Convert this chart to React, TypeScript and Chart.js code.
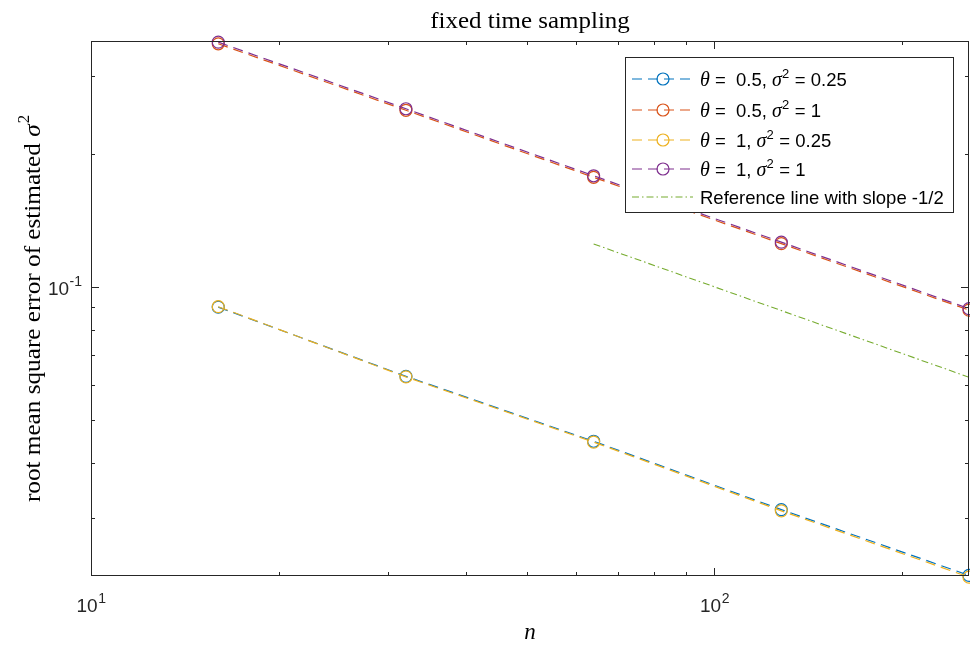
import React, { useEffect, useRef } from "react";
import { Chart, registerables } from "chart.js";
Chart.register(...registerables);

// ---- data ----
const nValues = [16, 32, 64, 128, 256];
const rmseTheta05Sigma025 = [0.0900, 0.0628, 0.0448, 0.0314, 0.0223];
const rmseTheta05Sigma1 = [0.354, 0.2505, 0.1768, 0.1252, 0.0886];
const rmseTheta1Sigma025 = [0.0902, 0.0626, 0.0446, 0.0312, 0.0221];
const rmseTheta1Sigma1 = [0.357, 0.2525, 0.1782, 0.1262, 0.0893];
const refN = [64, 128, 256];
const refValues = [0.125, 0.0884, 0.0625];

// ---- axes ----
const xRange = [10, 256];
const yRange = [0.02223, 0.3592];
const xMajorTicks = [10, 100];
const xMajorLabels = [["10", "1"], ["10", "2"]];
const xMinorTicks = [20, 30, 40, 50, 60, 70, 80, 90, 200];
const yMajorTicks = [0.1];
const yMajorLabels = [["10", "-1"]];
const yMinorTicks = [0.03, 0.04, 0.05, 0.06, 0.07, 0.08, 0.09, 0.2, 0.3];

const titleText = "fixed time sampling";
const xTitle = "n";
const yTitle = "root mean square error of estimated ";

const colors = ["#0072BD", "#D95319", "#EDB120", "#7E2F8E", "#77AC30"];

type Seg = { t: string; kind: "sans" | "sym" | "sup" };
const legendEntries: Seg[][] = [
  [{ t: "θ", kind: "sym" }, { t: " =  0.5, ", kind: "sans" }, { t: "σ", kind: "sym" }, { t: "2", kind: "sup" }, { t: " = 0.25", kind: "sans" }],
  [{ t: "θ", kind: "sym" }, { t: " =  0.5, ", kind: "sans" }, { t: "σ", kind: "sym" }, { t: "2", kind: "sup" }, { t: " = 1", kind: "sans" }],
  [{ t: "θ", kind: "sym" }, { t: " =  1, ", kind: "sans" }, { t: "σ", kind: "sym" }, { t: "2", kind: "sup" }, { t: " = 0.25", kind: "sans" }],
  [{ t: "θ", kind: "sym" }, { t: " =  1, ", kind: "sans" }, { t: "σ", kind: "sym" }, { t: "2", kind: "sup" }, { t: " = 1", kind: "sans" }],
  [{ t: "Reference line with slope -1/2", kind: "sans" }],
];

const AX = "#262626";
const SANS = "'Liberation Sans', Arial, sans-serif";
const SERIF = "'Liberation Serif', 'Times New Roman', serif";

function drawSegs(ctx: CanvasRenderingContext2D, segs: Seg[], x: number, y: number) {
  let cx = x;
  for (const s of segs) {
    if (s.kind === "sans") ctx.font = `18.5px ${SANS}`;
    else if (s.kind === "sym") ctx.font = `italic 20px ${SERIF}`;
    else ctx.font = `13px ${SANS}`;
    const dy = s.kind === "sup" ? -8 : 0;
    ctx.fillText(s.t, cx, y + dy);
    cx += ctx.measureText(s.t).width + (s.kind === "sup" ? 0.5 : 0);
  }
}

const overlay = {
  id: "matlabOverlay",
  afterDraw(chart: any) {
    const ctx: CanvasRenderingContext2D = chart.ctx;
    const a = chart.chartArea;
    const xs = chart.scales.x;
    const ys = chart.scales.y;
    ctx.save();
    ctx.strokeStyle = AX;
    ctx.lineWidth = 1;
    const tick = (px: number, len: number, horiz: boolean) => {
      ctx.beginPath();
      if (horiz) {
        ctx.moveTo(px, a.bottom); ctx.lineTo(px, a.bottom - len);
        ctx.moveTo(px, a.top); ctx.lineTo(px, a.top + len);
      } else {
        ctx.moveTo(a.left, px); ctx.lineTo(a.left + len, px);
        ctx.moveTo(a.right, px); ctx.lineTo(a.right - len, px);
      }
      ctx.stroke();
    };
    xMajorTicks.forEach((v) => tick(Math.round(xs.getPixelForValue(v)) + 0.5, 8, true));
    xMinorTicks.forEach((v) => tick(Math.round(xs.getPixelForValue(v)) + 0.5, 4, true));
    yMajorTicks.forEach((v) => tick(Math.round(ys.getPixelForValue(v)) + 0.5, 8, false));
    yMinorTicks.forEach((v) => tick(Math.round(ys.getPixelForValue(v)) + 0.5, 4, false));
    ctx.strokeRect(a.left + 0.5, a.top + 0.5, a.right - a.left - 1, a.bottom - a.top - 1);

    // tick labels
    ctx.fillStyle = AX;
    ctx.textBaseline = "alphabetic";
    const MAIN = `19px ${SANS}`;
    const SUP = `14px ${SANS}`;
    xMajorTicks.forEach((v, i) => {
      const px = xs.getPixelForValue(v);
      const [b, e] = xMajorLabels[i];
      ctx.font = MAIN;
      const wb = ctx.measureText(b).width;
      ctx.font = SUP;
      const we = ctx.measureText(e).width;
      const x0 = px - (wb + we) / 2;
      ctx.font = MAIN;
      ctx.fillText(b, x0, 612);
      ctx.font = SUP;
      ctx.fillText(e, x0 + wb + 0.5, 603);
    });
    yMajorTicks.forEach((v, i) => {
      const py = ys.getPixelForValue(v);
      const [b, e] = yMajorLabels[i];
      ctx.font = SUP;
      const we = ctx.measureText(e).width;
      ctx.font = MAIN;
      const wb = ctx.measureText(b).width;
      const xr = a.left - 9;
      ctx.fillText(b, xr - we - wb - 0.5, py + 8);
      ctx.font = SUP;
      ctx.fillText(e, xr - we, py - 1);
    });

    // title and axis labels
    ctx.fillStyle = "#000";
    ctx.textAlign = "center";
    ctx.save();
    ctx.translate((a.left + a.right) / 2, 28);
    ctx.scale(1.04, 1);
    ctx.font = `24px ${SERIF}`;
    ctx.fillText(titleText, 0, 0);
    ctx.restore();
    ctx.font = `italic 23px ${SERIF}`;
    ctx.fillText(xTitle, (a.left + a.right) / 2, 639);

    ctx.save();
    ctx.translate(40, (a.top + a.bottom) / 2);
    ctx.rotate(-Math.PI / 2);
    ctx.scale(1.05, 1);
    ctx.font = `24px ${SERIF}`;
    const w1 = ctx.measureText(yTitle).width;
    ctx.font = `italic 24px ${SERIF}`;
    const w2 = ctx.measureText("σ").width;
    ctx.font = `16px ${SERIF}`;
    const w3 = ctx.measureText("2").width;
    const total = w1 + w2 + w3 + 1;
    ctx.textAlign = "left";
    let cx = -total / 2;
    ctx.font = `24px ${SERIF}`;
    ctx.fillText(yTitle, cx, 0);
    cx += w1;
    ctx.font = `italic 24px ${SERIF}`;
    ctx.fillText("σ", cx, 0);
    cx += w2 + 1;
    ctx.font = `16px ${SERIF}`;
    ctx.fillText("2", cx, -11);
    ctx.restore();

    // legend
    const lx = 625, ly = 57, lw = 328, lh = 155;
    ctx.fillStyle = "#fff";
    ctx.fillRect(lx, ly, lw, lh);
    ctx.strokeStyle = AX;
    ctx.lineWidth = 1;
    ctx.strokeRect(lx + 0.5, ly + 0.5, lw, lh);
    const rowY = [79, 110, 140, 169, 197];
    ctx.textAlign = "left";
    legendEntries.forEach((segs, i) => {
      const y = rowY[i];
      ctx.strokeStyle = colors[i];
      ctx.lineWidth = 1.2;
      ctx.beginPath();
      if (i < 4) ctx.setLineDash([10, 6]);
      else ctx.setLineDash([7, 3, 1.5, 3]);
      ctx.moveTo(632, y);
      ctx.lineTo(693, y);
      ctx.stroke();
      ctx.setLineDash([]);
      if (i < 4) {
        ctx.beginPath();
        ctx.arc(663, y, 6, 0, Math.PI * 2);
        ctx.stroke();
      }
      ctx.fillStyle = "#000";
      drawSegs(ctx, segs, 700, y + 7);
    });
    ctx.restore();
  },
};

function series(label: string, ys: number[], color: string, order: number) {
  return {
    label,
    data: nValues.map((n, i) => ({ x: n, y: ys[i] })),
    borderColor: color,
    backgroundColor: "rgba(0,0,0,0)",
    borderWidth: 1.2,
    borderDash: [10, 6],
    pointStyle: "circle",
    pointRadius: 6,
    pointBorderWidth: 1.2,
    pointBorderColor: color,
    pointBackgroundColor: "rgba(0,0,0,0)",
    fill: false,
    tension: 0,
    clip: false as any,
    order,
  };
}

export default function App() {
  const ref = useRef<HTMLCanvasElement | null>(null);
  useEffect(() => {
    if (!ref.current) return;
    const chart = new Chart(ref.current, {
      type: "line",
      data: {
        datasets: [
          series("theta=0.5, sigma2=0.25", rmseTheta05Sigma025, colors[0], 4),
          series("theta=0.5, sigma2=1", rmseTheta05Sigma1, colors[1], 3),
          series("theta=1, sigma2=0.25", rmseTheta1Sigma025, colors[2], 2),
          series("theta=1, sigma2=1", rmseTheta1Sigma1, colors[3], 1),
          {
            label: "Reference line with slope -1/2",
            data: refN.map((n, i) => ({ x: n, y: refValues[i] })),
            borderColor: colors[4],
            borderWidth: 1.1,
            borderDash: [7, 3, 1.5, 3],
            pointRadius: 0,
            fill: false,
            tension: 0,
            order: 0,
          } as any,
        ],
      },
      options: {
        animation: false,
        responsive: false,
        maintainAspectRatio: false,
        devicePixelRatio: 1,
        layout: { autoPadding: false, padding: { left: 91, right: 1, top: 41, bottom: 69 } },
        plugins: { legend: { display: false }, tooltip: { enabled: false }, title: { display: false } },
        scales: {
          x: { type: "logarithmic", min: xRange[0], max: xRange[1], display: false },
          y: { type: "logarithmic", min: yRange[0], max: yRange[1], display: false },
        },
        events: [],
      } as any,
      plugins: [overlay],
    });
    return () => chart.destroy();
  }, []);
  return (
    <div style={{ position: "fixed", left: 0, top: 0, width: 970, height: 645, background: "#fff" }}>
      <canvas ref={ref} width={970} height={645} style={{ width: 970, height: 645, display: "block" }} />
    </div>
  );
}
